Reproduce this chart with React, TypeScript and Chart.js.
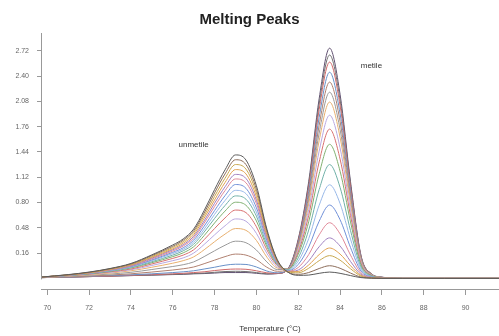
import React, { useEffect, useRef } from "react";
import { Chart, registerables } from "chart.js";
Chart.register(...registerables);

const temps = [69.7, 71, 72, 73, 74, 75, 76, 76.5, 77, 77.5, 78, 78.5, 79, 79.5, 80, 80.5, 81, 81.5, 82, 82.5, 83, 83.5, 84, 84.5, 85, 85.5, 86, 87, 89, 91.6];

const s1 = [0.05, 0.15, 0.25, 0.39, 0.59, 0.93, 1.32, 1.56, 1.95, 2.68, 3.51, 4.29, 4.88, 4.68, 3.66, 1.95, 0.74, 0.25, 0.12, 0.13, 0.2, 0.25, 0.2, 0.11, 0.03, 0.01, 0, 0, 0, 0];
const s2 = [0.05, 0.14, 0.24, 0.38, 0.57, 0.9, 1.27, 1.51, 1.88, 2.58, 3.38, 4.13, 4.69, 4.5, 3.52, 1.88, 0.71, 0.25, 0.16, 0.23, 0.39, 0.5, 0.4, 0.21, 0.05, 0.01, 0, 0, 0, 0];
const s3 = [0.05, 0.14, 0.23, 0.37, 0.55, 0.86, 1.22, 1.45, 1.81, 2.48, 3.24, 3.96, 4.5, 4.32, 3.38, 1.81, 0.69, 0.26, 0.22, 0.4, 0.7, 0.9, 0.72, 0.38, 0.09, 0.02, 0, 0, 0, 0];
const s4 = [0.05, 0.13, 0.22, 0.35, 0.53, 0.83, 1.17, 1.39, 1.73, 2.38, 3.1, 3.79, 4.3, 4.13, 3.23, 1.73, 0.67, 0.26, 0.27, 0.53, 0.94, 1.2, 0.96, 0.5, 0.12, 0.02, 0.01, 0, 0, 0];
const s5 = [0.05, 0.13, 0.22, 0.34, 0.51, 0.8, 1.13, 1.33, 1.66, 2.27, 2.97, 3.62, 4.11, 3.95, 3.09, 1.66, 0.64, 0.27, 0.33, 0.69, 1.25, 1.6, 1.28, 0.67, 0.16, 0.03, 0.01, 0, 0, 0];
const s6 = [0.05, 0.13, 0.21, 0.33, 0.49, 0.77, 1.08, 1.28, 1.59, 2.18, 2.84, 3.47, 3.93, 3.78, 2.96, 1.59, 0.63, 0.28, 0.43, 0.94, 1.72, 2.2, 1.76, 0.92, 0.22, 0.04, 0.01, 0, 0, 0];
const s7 = [0.05, 0.12, 0.2, 0.32, 0.47, 0.73, 1.03, 1.21, 1.51, 2.06, 2.68, 3.27, 3.71, 3.56, 2.79, 1.51, 0.61, 0.3, 0.55, 1.24, 2.26, 2.9, 2.32, 1.22, 0.29, 0.06, 0.01, 0, 0, 0];
const s8 = [0.05, 0.12, 0.2, 0.31, 0.45, 0.7, 0.98, 1.15, 1.43, 1.94, 2.53, 3.08, 3.48, 3.35, 2.62, 1.42, 0.59, 0.32, 0.68, 1.57, 2.89, 3.7, 2.96, 1.55, 0.37, 0.07, 0.02, 0, 0, 0];
const s9 = [0.05, 0.12, 0.19, 0.29, 0.43, 0.66, 0.92, 1.09, 1.35, 1.83, 2.37, 2.88, 3.26, 3.13, 2.46, 1.34, 0.57, 0.34, 0.81, 1.91, 3.51, 4.5, 3.6, 1.89, 0.45, 0.09, 0.02, 0, 0, 0];
const s10 = [0.05, 0.11, 0.18, 0.28, 0.41, 0.62, 0.86, 1.01, 1.25, 1.69, 2.19, 2.66, 3.01, 2.89, 2.27, 1.25, 0.54, 0.36, 0.95, 2.24, 4.13, 5.3, 4.24, 2.23, 0.53, 0.11, 0.03, 0, 0, 0];
const s11 = [0.04, 0.11, 0.17, 0.26, 0.37, 0.57, 0.79, 0.92, 1.13, 1.53, 1.97, 2.39, 2.7, 2.6, 2.04, 1.13, 0.51, 0.37, 1.04, 2.49, 4.6, 5.9, 4.72, 2.48, 0.59, 0.12, 0.03, 0, 0, 0];
const s12 = [0.04, 0.1, 0.16, 0.24, 0.34, 0.51, 0.7, 0.81, 1.0, 1.34, 1.72, 2.08, 2.35, 2.26, 1.78, 0.99, 0.46, 0.37, 1.13, 2.72, 5.03, 6.45, 5.16, 2.71, 0.65, 0.13, 0.03, 0, 0, 0];
const s13 = [0.04, 0.09, 0.14, 0.21, 0.3, 0.44, 0.6, 0.7, 0.85, 1.13, 1.45, 1.75, 1.97, 1.9, 1.5, 0.84, 0.41, 0.37, 1.21, 2.94, 5.44, 6.97, 5.58, 2.93, 0.7, 0.14, 0.03, 0, 0, 0];
const s14 = [0.04, 0.08, 0.12, 0.17, 0.24, 0.35, 0.47, 0.54, 0.65, 0.86, 1.09, 1.31, 1.47, 1.41, 1.12, 0.65, 0.35, 0.36, 1.27, 3.1, 5.74, 7.36, 5.89, 3.09, 0.74, 0.15, 0.04, 0, 0, 0];
const s15 = [0.03, 0.06, 0.09, 0.13, 0.18, 0.25, 0.33, 0.38, 0.45, 0.58, 0.72, 0.86, 0.96, 0.92, 0.74, 0.44, 0.28, 0.35, 1.33, 3.26, 6.05, 7.76, 6.21, 3.26, 0.78, 0.16, 0.04, 0, 0, 0];
const s16 = [0.03, 0.05, 0.08, 0.11, 0.14, 0.18, 0.23, 0.26, 0.3, 0.37, 0.44, 0.52, 0.56, 0.55, 0.45, 0.29, 0.22, 0.35, 1.39, 3.43, 6.36, 8.15, 6.52, 3.42, 0.82, 0.16, 0.04, 0, 0, 0];
const s17 = [0.03, 0.05, 0.07, 0.09, 0.12, 0.15, 0.18, 0.2, 0.23, 0.26, 0.31, 0.35, 0.37, 0.36, 0.3, 0.22, 0.2, 0.35, 1.46, 3.59, 6.67, 8.55, 6.84, 3.59, 0.86, 0.17, 0.04, 0, 0, 0];
const s18 = [0.03, 0.05, 0.07, 0.09, 0.11, 0.13, 0.16, 0.17, 0.19, 0.21, 0.24, 0.27, 0.28, 0.27, 0.23, 0.18, 0.19, 0.36, 1.5, 3.71, 6.89, 8.83, 7.06, 3.71, 0.88, 0.18, 0.04, 0, 0, 0];
const s19 = [0.03, 0.05, 0.07, 0.09, 0.11, 0.13, 0.15, 0.16, 0.18, 0.19, 0.21, 0.23, 0.23, 0.23, 0.2, 0.17, 0.19, 0.37, 1.55, 3.82, 7.1, 9.1, 7.28, 3.82, 0.91, 0.18, 0.05, 0, 0, 0];

const seriesValues = [s1, s2, s3, s4, s5, s6, s7, s8, s9, s10, s11, s12, s13, s14, s15, s16, s17, s18, s19];
const seriesColors = [
  "#5a5a5a", "#8c6d5a", "#c8a850", "#e0a050", "#a080c0", "#e08898", "#7090d8", "#98b8e8", "#70b0a8", "#80b070",
  "#d87070", "#b8a8e0", "#e8b070", "#9a9a9a", "#b08070", "#6890c8", "#d06868", "#707070", "#605070",
];

const xTickValues = [70, 72, 74, 76, 78, 80, 82, 84, 86, 88, 90];
const yTickValues = [1, 2, 3, 4, 5, 6, 7, 8, 9];
const yTickLabels = ["0.16", "0.48", "0.80", "1.12", "1.44", "1.76", "2.08", "2.40", "2.72"];

const annotationTexts = ["unmetile", "metile"];
const annotationX = [77.0, 85.5];
const annotationY = [5.3, 8.4];

const annotatePlugin = {
  id: "annotate",
  afterDatasetsDraw(chart: any) {
    const { ctx, chartArea, scales } = chart;
    ctx.save();
    ctx.strokeStyle = "#999";
    ctx.lineWidth = 1;
    ctx.beginPath();
    ctx.moveTo(chartArea.left + 0.5, chartArea.top);
    ctx.lineTo(chartArea.left + 0.5, scales.y.getPixelForValue(0) + 1);
    ctx.stroke();
    ctx.fillStyle = "#333";
    ctx.font = "8px 'Liberation Sans', sans-serif";
    ctx.textAlign = "center";
    ctx.textBaseline = "middle";
    annotationTexts.forEach((t, i) => {
      ctx.fillText(t, scales.x.getPixelForValue(annotationX[i]), scales.y.getPixelForValue(annotationY[i]));
    });
    ctx.restore();
  },
};

export default function App() {
  const ref = useRef<HTMLCanvasElement>(null);
  useEffect(() => {
    if (!ref.current) return;
    const chart = new Chart(ref.current, {
      type: "line",
      data: {
        datasets: seriesValues.map((vals, i) => ({
          label: "S" + (i + 1),
          data: temps.map((t, j) => ({ x: t, y: vals[j] })),
          borderColor: seriesColors[i],
          borderWidth: 1,
          pointRadius: 0,
          fill: false,
          cubicInterpolationMode: "monotone" as const,
        })),
      },
      options: {
        animation: false,
        responsive: false,
        devicePixelRatio: 1,
        layout: { padding: { left: 0, right: 0, top: 0, bottom: 0 } },
        plugins: {
          legend: { display: false },
          tooltip: { enabled: false },
          title: {
            display: true,
            text: "Melting Peaks",
            color: "#222",
            font: { family: "'Liberation Sans', Arial, sans-serif", size: 15, weight: "bold" },
            padding: { top: 11, bottom: 4 },
          },
        },
        scales: {
          x: {
            type: "linear",
            min: 69.7,
            max: 91.6,
            afterBuildTicks: (scale: any) => {
              scale.ticks = xTickValues.map((v) => ({ value: v }));
            },
            afterFit: (scale: any) => {
              scale.height = 47;
            },
            border: { display: true, color: "#999" },
            grid: { display: true, drawOnChartArea: false, drawTicks: true, tickLength: 6, color: "#999" },
            ticks: {
              autoSkip: false,
              maxRotation: 0,
              padding: 9,
              color: "#666",
              font: { family: "'Liberation Sans', sans-serif", size: 7 },
              callback: (v: any) => String(v),
            },
            title: {
              display: true,
              text: "Temperature (°C)",
              color: "#333",
              font: { family: "'Liberation Sans', sans-serif", size: 8 },
              padding: { top: 0, bottom: 2 },
            },
          },
          y: {
            type: "linear",
            min: -0.42,
            max: 9.7,
            afterBuildTicks: (scale: any) => {
              scale.ticks = yTickValues.map((v) => ({ value: v }));
            },
            afterFit: (scale: any) => {
              scale.width = 41;
            },
            border: { display: false },
            grid: { display: true, drawOnChartArea: false, drawTicks: true, tickLength: 4, color: "#999" },
            ticks: {
              autoSkip: false,
              padding: 8,
              color: "#666",
              font: { family: "'Liberation Sans', sans-serif", size: 7 },
              callback: (v: any) => {
                const idx = yTickValues.indexOf(Number(v));
                return idx >= 0 ? yTickLabels[idx] : "";
              },
            },
          },
        },
      },
      plugins: [annotatePlugin],
    } as any);
    return () => chart.destroy();
  }, []);
  return (
    <div style={{ position: "absolute", left: 0, top: 0, width: 499, height: 336, background: "#fff" }}>
      <canvas ref={ref} width={499} height={336} style={{ display: "block" }} />
    </div>
  );
}
